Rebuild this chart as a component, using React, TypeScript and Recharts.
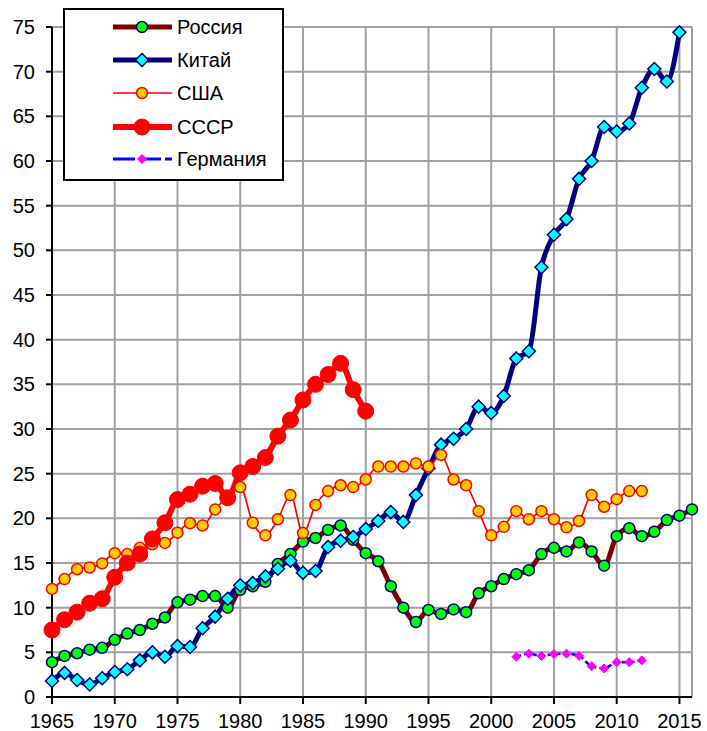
import { LineChart, Line, XAxis, YAxis, CartesianGrid, Legend, ReferenceLine } from "recharts";

const FONT = "'Liberation Sans', Arial, sans-serif";

// years on the x axis
const years = [
  1965, 1966, 1967, 1968, 1969, 1970, 1971, 1972, 1973, 1974,
  1975, 1976, 1977, 1978, 1979, 1980, 1981, 1982, 1983, 1984,
  1985, 1986, 1987, 1988, 1989, 1990, 1991, 1992, 1993, 1994,
  1995, 1996, 1997, 1998, 1999, 2000, 2001, 2002, 2003, 2004,
  2005, 2006, 2007, 2008, 2009, 2010, 2011, 2012, 2013, 2014,
  2015, 2016,
];

// Россия, 1965-2016
const russia = [
  3.9, 4.6, 4.9, 5.3, 5.5, 6.4, 7.1, 7.5, 8.2, 8.9,
  10.6, 10.9, 11.3, 11.3, 10.0, 12.0, 12.4, 12.9, 14.9, 16.0,
  17.4, 17.8, 18.7, 19.2, 17.6, 16.1, 15.2, 12.4, 10.0, 8.4,
  9.75, 9.3, 9.8, 9.5, 11.6, 12.4, 13.2, 13.75, 14.2, 16.0,
  16.7, 16.3, 17.3, 16.3, 14.7, 18.0, 18.9, 18.0, 18.5, 19.8,
  20.3, 21.0,
];
const russiaStart = 1965;

// Китай, 1965-2015
const china = [
  1.8, 2.7, 1.9, 1.4, 2.1, 2.8, 3.1, 4.1, 5.0, 4.5,
  5.7, 5.6, 7.7, 9.0, 11.0, 12.5, 12.75, 13.5, 14.35, 15.25,
  13.9, 14.1, 16.8, 17.5, 17.9, 18.8, 19.7, 20.7, 19.6, 22.6,
  25.6, 28.25, 28.9, 30.0, 32.5, 31.8, 33.7, 37.9, 38.7, 48.1,
  51.75, 53.5, 58.0, 60.0, 63.8, 63.3, 64.2, 68.2, 70.3, 68.9,
  74.4,
];
const chinaStart = 1965;

// США, 1965-2012
const usa = [
  12.1, 13.2, 14.3, 14.5, 14.95, 16.1, 16.0, 16.7, 17.1, 17.25,
  18.4, 19.45, 19.2, 21.0, 22.4, 23.5, 19.5, 18.1, 19.9, 22.6,
  18.35, 21.5, 23.05, 23.7, 23.5, 24.35, 25.8, 25.8, 25.8, 26.15,
  25.8, 27.1, 24.35, 23.7, 20.8, 18.1, 19.05, 20.8, 19.9, 20.8,
  19.9, 19.0, 19.7, 22.6, 21.3, 22.15, 23.05, 23.05,
];
const usaStart = 1965;

// СССР, 1965-1990
const ussr = [
  7.5, 8.65, 9.5, 10.5, 11.0, 13.4, 15.0, 16.0, 17.7, 19.5,
  22.1, 22.7, 23.6, 23.9, 22.3, 25.1, 25.8, 26.8, 29.2, 31.0,
  33.25, 35.0, 36.1, 37.35, 34.4, 32.0,
];
const ussrStart = 1965;

// Германия, 2002-2012
const germany = [4.5, 4.85, 4.6, 4.8, 4.85, 4.6, 3.45, 3.2, 3.9, 3.9, 4.1];
const germanyStart = 2002;

const xTicks = [1965, 1970, 1975, 1980, 1985, 1990, 1995, 2000, 2005, 2010, 2015];
const yTicks = [0, 5, 10, 15, 20, 25, 30, 35, 40, 45, 50, 55, 60, 65, 70, 75];

const pick = (arr: number[], start: number, y: number) => {
  const i = y - start;
  return i >= 0 && i < arr.length ? arr[i] : null;
};

const rows = years.map(y => ({
  year: y,
  russia: pick(russia, russiaStart, y),
  china: pick(china, chinaStart, y),
  usa: pick(usa, usaStart, y),
  ussr: pick(ussr, ussrStart, y),
  germany: pick(germany, germanyStart, y),
}));

const circleDot = (name: string, fill: string, stroke: string, r: number, sw: number) => (p: any) => {
  if (p.cx == null || p.cy == null || p.value == null) return <g key={`${name}-${p.index}`} />;
  return <circle key={`${name}-${p.index}`} cx={p.cx} cy={p.cy} r={r} fill={fill} stroke={stroke} strokeWidth={sw} />;
};

const diamondPath = (cx: number, cy: number, s: number) =>
  `M${cx},${cy - s}L${cx + s},${cy}L${cx},${cy + s}L${cx - s},${cy}Z`;

const diamondDot = (name: string, fill: string, stroke: string, s: number, sw: number) => (p: any) => {
  if (p.cx == null || p.cy == null || p.value == null) return <g key={`${name}-${p.index}`} />;
  return <path key={`${name}-${p.index}`} d={diamondPath(p.cx, p.cy, s)} fill={fill} stroke={stroke} strokeWidth={sw} />;
};

function LegendBox() {
  const x1 = 48, x2 = 107, mx = 77, tx = 112;
  const rowsY = [17, 50, 83, 117, 149];
  const labels = ["Россия", "Китай", "США", "СССР", "Германия"];
  return (
    <div style={{ width: 221, height: 173, border: "2px solid #000", boxSizing: "border-box", background: "#fff" }}>
      <svg width={217} height={169}>
        <line x1={x1} x2={x2} y1={rowsY[0]} y2={rowsY[0]} stroke="#800000" strokeWidth={5} />
        <circle cx={mx} cy={rowsY[0]} r={5.5} fill="#00ff00" stroke="#000080" strokeWidth={1.5} />
        <line x1={x1} x2={x2} y1={rowsY[1]} y2={rowsY[1]} stroke="#000080" strokeWidth={5} />
        <path d={diamondPath(mx, rowsY[1], 6.5)} fill="#00ffff" stroke="#000080" strokeWidth={1.5} />
        <line x1={x1} x2={x2} y1={rowsY[2]} y2={rowsY[2]} stroke="#ff0000" strokeWidth={1.5} />
        <circle cx={mx} cy={rowsY[2]} r={5.5} fill="#ffcc00" stroke="#ff0000" strokeWidth={1.5} />
        <line x1={x1} x2={x2} y1={rowsY[3]} y2={rowsY[3]} stroke="#ff0000" strokeWidth={6} />
        <circle cx={mx} cy={rowsY[3]} r={8} fill="#ff0000" stroke="#ff0000" strokeWidth={1} />
        <line x1={x1} x2={x2} y1={rowsY[4]} y2={rowsY[4]} stroke="#0000ff" strokeWidth={3} strokeDasharray="22 4" />
        <path d={diamondPath(mx, rowsY[4], 4.5)} fill="#ff00ff" stroke="#ff00ff" strokeWidth={1} />
        {labels.map((l, i) => (
          <text key={l} x={tx} y={rowsY[i]} dy="0.36em" fontSize={20} fontFamily={FONT} fill="#000">{l}</text>
        ))}
      </svg>
    </div>
  );
}

export default function App() {
  const tickStyle = { fontSize: 20, fill: "#000", fontFamily: FONT };
  return (
    <div style={{ position: "absolute", left: 0, top: 0, width: 707, height: 731, background: "#fff" }}>
      <LineChart width={707} height={731} data={rows} margin={{ top: 27, right: 15, bottom: 5, left: 0 }}>
        <CartesianGrid stroke="#a0a0a0" strokeWidth={2} />
        <ReferenceLine x={2016} stroke="#a0a0a0" strokeWidth={2} />
        <XAxis
          dataKey="year"
          type="number"
          domain={[1965, 2016]}
          ticks={xTicks}
          interval={0}
          tick={tickStyle}
          stroke="#000"
          strokeWidth={2}
          tickSize={7}
          tickMargin={10}
          height={29}
        />
        <YAxis
          type="number"
          domain={[0, 75]}
          ticks={yTicks}
          interval={0}
          tick={tickStyle}
          stroke="#000"
          strokeWidth={2}
          tickSize={6}
          tickMargin={11}
          width={52}
        />
        <Legend
          layout="vertical"
          align="center"
          verticalAlign="middle"
          wrapperStyle={{ left: 63, top: 8, width: 221, height: 173 }}
          content={() => <LegendBox />}
        />
        <Line type="monotone" dataKey="russia" stroke="#800000" strokeWidth={5}
          dot={circleDot("ru", "#00ff00", "#000080", 5.5, 1.5)} isAnimationActive={false} />
        <Line type="monotone" dataKey="china" stroke="#000080" strokeWidth={5}
          dot={diamondDot("cn", "#00ffff", "#000080", 6.5, 1.5)} isAnimationActive={false} />
        <Line type="monotone" dataKey="usa" stroke="#ff0000" strokeWidth={1.7}
          dot={circleDot("us", "#ffcc00", "#ff0000", 5.5, 1.5)} isAnimationActive={false} />
        <Line type="monotone" dataKey="ussr" stroke="#ff0000" strokeWidth={6}
          dot={circleDot("su", "#ff0000", "#ff0000", 8, 1)} isAnimationActive={false} />
        <Line type="monotone" dataKey="germany" stroke="#0000ff" strokeWidth={2.5} strokeDasharray="5 3"
          dot={diamondDot("de", "#ff00ff", "#ff00ff", 4.5, 1)} isAnimationActive={false} />
      </LineChart>
    </div>
  );
}
